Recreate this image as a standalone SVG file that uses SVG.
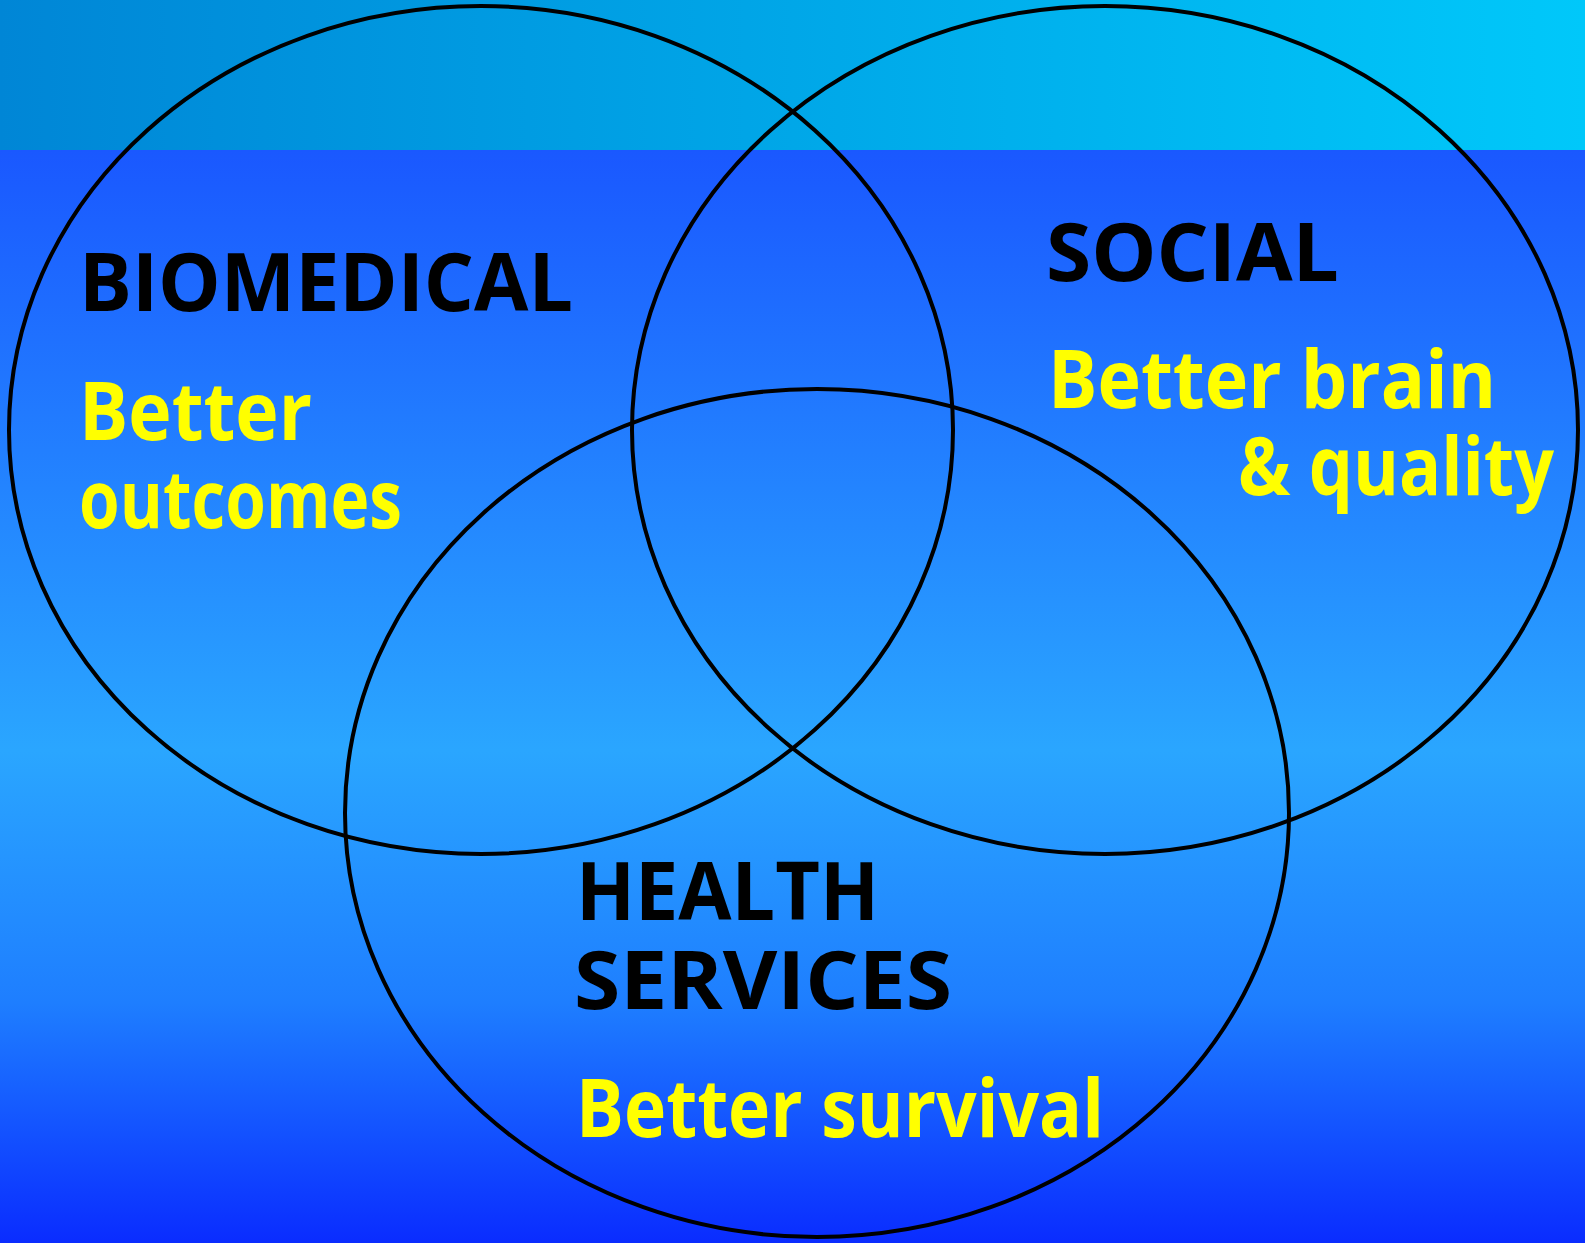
<svg xmlns="http://www.w3.org/2000/svg" width="1585" height="1243" viewBox="0 0 1585 1243">
<defs>
<linearGradient id="topband" x1="0" y1="0" x2="1" y2="0">
<stop offset="0" stop-color="#0086D6"/>
<stop offset="1" stop-color="#00C8FA"/>
</linearGradient>
<linearGradient id="body" x1="0" y1="150" x2="0" y2="1243" gradientUnits="userSpaceOnUse">
<stop offset="0" stop-color="#1A58FF"/>
<stop offset="0.55" stop-color="#2AA6FF"/>
<stop offset="0.78" stop-color="#1E7EFF"/>
<stop offset="1" stop-color="#0A2CFF"/>
</linearGradient>
</defs>
<style>
.ring{fill:none;stroke:#000;stroke-width:4}
.title{font-family:"Open Sans","DejaVu Sans",sans-serif;font-weight:bold;font-size:80px;fill:#000}
.sub{font-family:"Open Sans","DejaVu Sans",sans-serif;font-weight:bold;font-size:80px;fill:#FFFF00}
</style>
<rect x="0" y="0" width="1585" height="150" fill="url(#topband)"/>
<rect x="0" y="150" width="1585" height="1093" fill="url(#body)"/>
<g id="biomedical">
<ellipse class="ring" cx="481" cy="430" rx="472" ry="424"/>
<text class="title" x="79" y="311" textLength="494" lengthAdjust="spacingAndGlyphs">BIOMEDICAL</text>
<text class="sub" x="79" y="440" textLength="233" lengthAdjust="spacingAndGlyphs">Better</text>
<text class="sub" x="79" y="528" textLength="323" lengthAdjust="spacingAndGlyphs">outcomes</text>
</g>
<g id="social">
<ellipse class="ring" cx="1105" cy="430" rx="473" ry="424"/>
<text class="title" x="1046" y="281" textLength="293" lengthAdjust="spacingAndGlyphs">SOCIAL</text>
<text class="sub" x="1048" y="408" textLength="448" lengthAdjust="spacingAndGlyphs">Better brain</text>
<text class="sub" x="1238" y="495" textLength="316" lengthAdjust="spacingAndGlyphs">&amp; quality</text>
</g>
<g id="health-services">
<ellipse class="ring" cx="817" cy="813" rx="472" ry="424"/>
<text class="title" x="576" y="920" textLength="303" lengthAdjust="spacingAndGlyphs">HEALTH</text>
<text class="title" x="574" y="1009" textLength="378" lengthAdjust="spacingAndGlyphs">SERVICES</text>
<text class="sub" x="576" y="1137" textLength="528" lengthAdjust="spacingAndGlyphs">Better survival</text>
</g>
</svg>
